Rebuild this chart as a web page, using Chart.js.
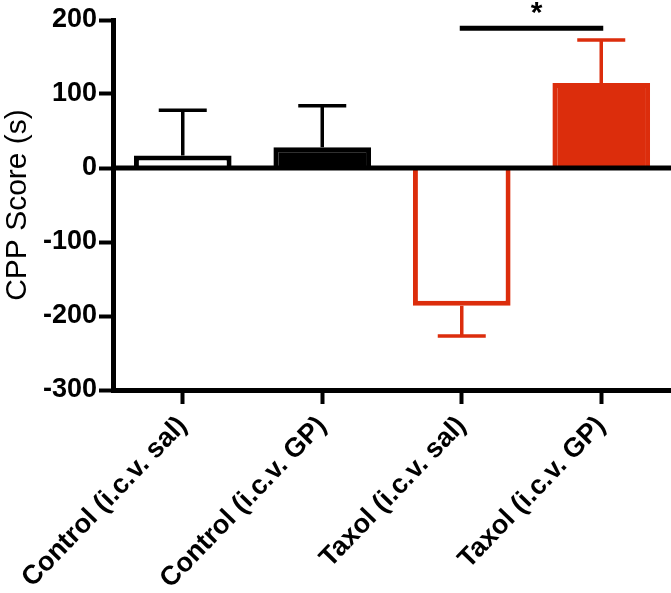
<!DOCTYPE html>
<html>
<head>
<meta charset="utf-8">
<script src="https://cdn.jsdelivr.net/npm/chart.js@4"></script>
<style>
  html, body { margin: 0; padding: 0; background: #fff; }
  #wrap { width: 671px; height: 593px; }
</style>
</head>
<body>
<div id="wrap"><canvas id="chart"></canvas></div>
<script>
const groups = ['Control (i.c.v. sal)', 'Control (i.c.v. GP)', 'Taxol (i.c.v. sal)', 'Taxol (i.c.v. GP)'];
const means = [17, 28, -186, 115];
const sems = [61, 56, 41, 58];
const fills = ['#ffffff', '#000000', '#ffffff', '#dc2d0c'];
const edges = ['#000000', '#000000', '#dc2d0c', '#dc2d0c'];
const yTicks = [-300, -200, -100, 0, 100, 200];
const sigPair = [2, 3];
const sigLevel = 189;
const sigLabel = '*';

const FONT = '"Liberation Sans", Arial, sans-serif';

// zero line, error bars (one sided, away from zero) and the significance bracket
const extras = {
    id: 'extras',
    afterDatasetsDraw(chart) {
        const ctx = chart.ctx;
        const y = chart.scales.y;
        const area = chart.chartArea;
        const bars = chart.getDatasetMeta(0).data;
        ctx.save();
        ctx.lineCap = 'butt';

        const y0line = y.getPixelForValue(0);
        ctx.strokeStyle = '#000';
        ctx.lineWidth = 5;
        ctx.beginPath();
        ctx.moveTo(area.left, y0line);
        ctx.lineTo(area.right, y0line);
        ctx.stroke();

        bars.forEach((bar, i) => {
            const m = means[i];
            const tip = m >= 0 ? m + sems[i] : m - sems[i];
            const y0 = y.getPixelForValue(m);
            const y1 = y.getPixelForValue(tip);
            ctx.strokeStyle = edges[i];
            ctx.lineWidth = 3.5;
            ctx.beginPath();
            ctx.moveTo(bar.x, y0);
            ctx.lineTo(bar.x, y1);
            ctx.moveTo(bar.x - 24, y1);
            ctx.lineTo(bar.x + 24, y1);
            ctx.stroke();
        });

        const ys = y.getPixelForValue(sigLevel);
        const xa = bars[sigPair[0]].x, xb = bars[sigPair[1]].x;
        ctx.strokeStyle = '#000';
        ctx.lineWidth = 5;
        ctx.beginPath();
        ctx.moveTo(xa - 2, ys);
        ctx.lineTo(xb + 2, ys);
        ctx.stroke();
        ctx.fillStyle = '#000';
        ctx.font = 'bold 30px ' + FONT;
        ctx.textAlign = 'center';
        ctx.textBaseline = 'middle';
        ctx.fillText(sigLabel, (xa + xb) / 2 + 5, ys - 14);
        ctx.restore();
    }
};

new Chart(document.getElementById('chart'), {
    type: 'bar',
    data: {
        labels: groups,
        datasets: [{
            data: means,
            backgroundColor: fills,
            borderColor: edges,
            borderWidth: 5,
            borderSkipped: 'start',
            barPercentage: 0.70,
            categoryPercentage: 1.0
        }]
    },
    options: {
        responsive: true,
        maintainAspectRatio: false,
        animation: false,
        layout: { padding: { top: 20, right: 0, left: 0, bottom: 0 } },
        plugins: {
            legend: { display: false },
            tooltip: { enabled: false }
        },
        scales: {
            x: {
                border: { display: true, color: '#000', width: 5 },
                grid: { drawOnChartArea: false, offset: false, color: '#000', tickLength: 14, tickWidth: 4 },
                ticks: {
                    minRotation: 46, maxRotation: 46,
                    color: '#000',
                    font: { family: FONT, size: 27, weight: 'bold' },
                    padding: 6
                },
                afterFit(scale) { scale.height = 203; }
            },
            y: {
                min: -300, max: 200,
                afterBuildTicks(scale) { scale.ticks = yTicks.map(v => ({ value: v })); },
                border: { display: true, color: '#000', width: 5 },
                grid: {
                    drawOnChartArea: false,
                    tickColor: '#000',
                    tickWidth: 4,
                    tickLength: 14
                },
                ticks: {
                    color: '#000',
                    font: { family: FONT, size: 27, weight: 'bold' },
                    padding: 2
                },
                title: {
                    display: true,
                    text: 'CPP Score (s)',
                    color: '#000',
                    font: { family: FONT, size: 30 },
                    padding: { top: 0, bottom: 0 }
                },
                afterFit(scale) { scale.width = 113; }
            }
        }
    },
    plugins: [extras]
});
</script>
</body>
</html>
